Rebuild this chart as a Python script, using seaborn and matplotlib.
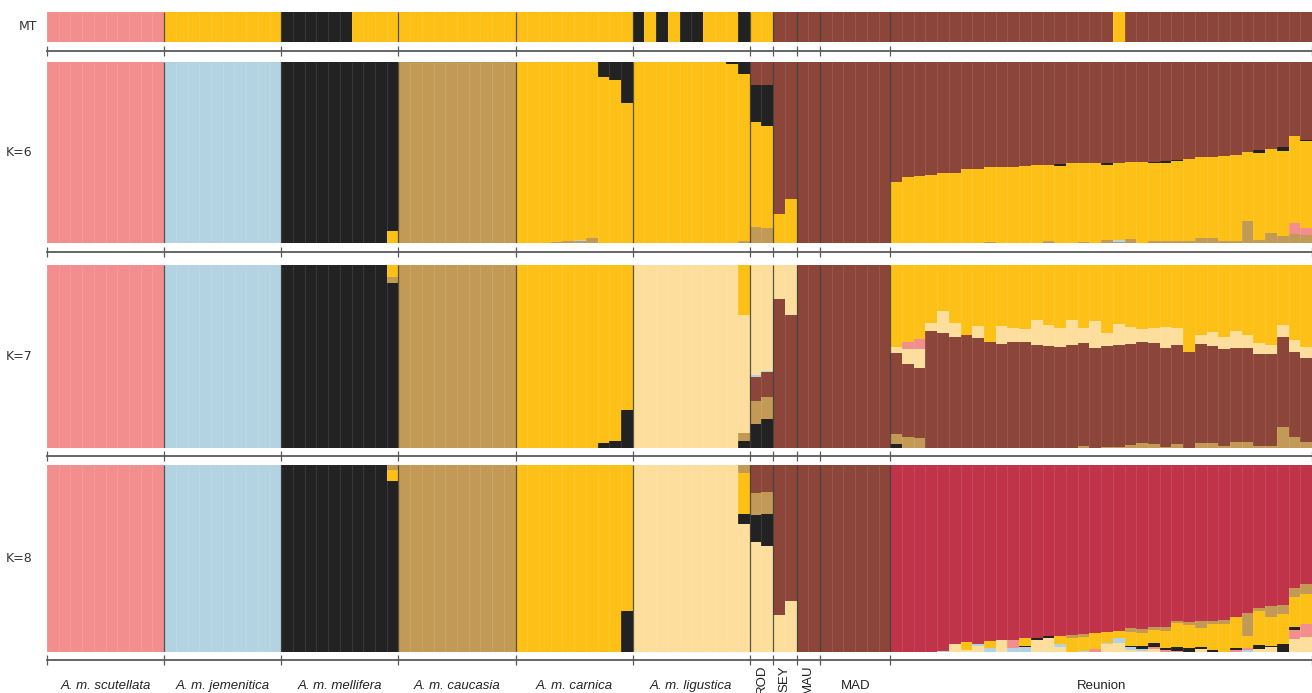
import numpy as np
import pandas as pd
import matplotlib
matplotlib.use("Agg")
import matplotlib.pyplot as plt
import matplotlib.transforms as mtransforms
import seaborn as sns

# ---------------- data ----------------
groups = ["A. m. scutellata", "A. m. jemenitica", "A. m. mellifera", "A. m. caucasia",
          "A. m. carnica", "A. m. ligustica", "ROD", "SEY", "MAU", "MAD", "Reunion"]
group_sizes = [10, 10, 10, 10, 10, 10, 2, 2, 2, 6, 36]
group_italic = [True, True, True, True, True, True, False, False, False, False, False]
group_rotated = [False, False, False, False, False, False, True, True, True, False, False]

cluster_colors = {"pink": "#F28F8E", "blue": "#B3D3E2", "black": "#222222", "tan": "#C29A55",
                  "yellow": "#FCC016", "cream": "#FDDE9D", "brown": "#8B4639", "red": "#C03349"}

# mitochondrial haplotype per individual
mt_hap = (["pink"] * 10 + ["yellow"] * 10
          + ["black"] * 6 + ["yellow"] * 4
          + ["yellow"] * 10 + ["yellow"] * 10
          + ["black", "yellow", "black", "yellow", "black", "black", "yellow", "yellow", "yellow", "black"]
          + ["yellow"] * 2 + ["brown"] * 2 + ["brown"] * 2 + ["brown"] * 6
          + ["brown"] * 19 + ["yellow"] + ["brown"] * 16)

# ---- K=6 ----
k6_main = ["pink", "blue", "black", "tan", "yellow", "yellow", "yellow", "brown", "brown", "brown", "brown"]
k6_admix = [  # (group, individual in group, cluster, proportion)
    (2, 9, "yellow", 0.065),
    (4, 3, "tan", 0.005), (4, 4, "tan", 0.013), (4, 5, "tan", 0.010), (4, 5, "blue", 0.010),
    (4, 6, "tan", 0.027), (4, 7, "black", 0.086), (4, 8, "black", 0.104), (4, 9, "black", 0.229),
    (5, 8, "black", 0.013), (5, 9, "black", 0.071), (5, 9, "tan", 0.015),
    (6, 0, "tan", 0.091), (6, 0, "black", 0.205), (6, 0, "brown", 0.128),
    (6, 1, "tan", 0.086), (6, 1, "black", 0.223), (6, 1, "brown", 0.132),
    (7, 0, "yellow", 0.159), (7, 1, "yellow", 0.243),
]
k6_reu_yellow = [0.335, 0.366, 0.369, 0.375, 0.384, 0.388, 0.406, 0.411, 0.410, 0.419, 0.422, 0.426,
                 0.430, 0.418, 0.424, 0.439, 0.434, 0.442, 0.413, 0.424, 0.424, 0.448, 0.427, 0.429,
                 0.439, 0.453, 0.442, 0.445, 0.466, 0.470, 0.383, 0.479, 0.461, 0.465, 0.480, 0.479]
k6_reu_tan = [0, 0, 0, 0, 0, 0, 0, 0, 0.007, 0, 0, 0, 0, 0.015, 0, 0, 0.007, 0, 0.018, 0.008, 0.022, 0,
              0.015, 0.015, 0.013, 0.010, 0.030, 0.030, 0.013, 0.013, 0.120, 0.020, 0.055, 0.040, 0.050, 0.045]
k6_reu_blue = [0, 0, 0, 0, 0, 0, 0, 0, 0, 0, 0, 0, 0, 0, 0, 0, 0, 0, 0, 0.010, 0, 0,
               0, 0, 0, 0, 0, 0, 0, 0, 0, 0, 0, 0, 0, 0]
k6_reu_pink = [0, 0, 0, 0, 0, 0, 0, 0, 0, 0, 0, 0, 0, 0, 0, 0, 0, 0, 0, 0, 0, 0,
               0, 0, 0, 0, 0, 0, 0, 0, 0, 0, 0, 0, 0.060, 0.037]
k6_reu_black = [0, 0, 0, 0, 0, 0, 0, 0, 0, 0, 0, 0, 0, 0, 0.011, 0, 0, 0, 0.009, 0, 0, 0,
                0.006, 0.007, 0.005, 0, 0, 0, 0, 0, 0, 0.013, 0, 0.022, 0, 0.009]
k6_order = ["brown", "black", "yellow", "pink", "blue", "tan"]  # top -> bottom

# ---- K=7 ----
k7_main = ["pink", "blue", "black", "tan", "yellow", "cream", "cream", "brown", "brown", "brown", "yellow"]
k7_admix = [
    (2, 9, "yellow", 0.066), (2, 9, "tan", 0.033),
    (4, 7, "black", 0.027), (4, 8, "black", 0.036), (4, 9, "black", 0.205),
    (5, 9, "yellow", 0.276), (5, 9, "tan", 0.044), (5, 9, "black", 0.038),
    (6, 0, "black", 0.127), (6, 0, "tan", 0.127), (6, 0, "brown", 0.133), (6, 0, "blue", 0.009),
    (6, 1, "black", 0.155), (6, 1, "tan", 0.124), (6, 1, "brown", 0.133), (6, 1, "blue", 0.009),
    (7, 0, "cream", 0.191), (7, 1, "cream", 0.276),
]
k7_reu_black = [0.018, 0, 0, 0, 0, 0, 0, 0, 0, 0, 0, 0, 0, 0, 0, 0, 0, 0, 0, 0, 0, 0,
                0, 0, 0, 0, 0, 0, 0, 0, 0, 0, 0, 0, 0, 0]
k7_reu_tan = [0.055, 0.060, 0.051, 0, 0, 0, 0, 0, 0, 0, 0, 0, 0, 0, 0, 0, 0.011, 0, 0.005, 0.005, 0.015,
              0.027, 0.018, 0.005, 0.020, 0, 0.027, 0.024, 0.009, 0.029, 0.033, 0.009, 0.009, 0.115, 0.056, 0.029]
k7_reu_brown = [0.442, 0.395, 0.382, 0.636, 0.624, 0.605, 0.615, 0.596, 0.578, 0.564, 0.578, 0.578,
                0.560, 0.556, 0.547, 0.560, 0.558, 0.545, 0.551, 0.555, 0.549, 0.551, 0.551, 0.537,
                0.540, 0.524, 0.537, 0.532, 0.527, 0.516, 0.509, 0.500, 0.500, 0.490, 0.464, 0.462]
k7_reu_cream = [0.035, 0.084, 0.104, 0.042, 0.124, 0.078, 0, 0.069, 0, 0.100, 0.076, 0.069, 0.135,
                0.116, 0.104, 0.136, 0.082, 0.147, 0.071, 0.116, 0.096, 0.069, 0.082, 0.118, 0.091,
                0, 0.051, 0.076, 0.069, 0.091, 0.073, 0.060, 0.051, 0.064, 0.067, 0.056]
k7_reu_pink = [0, 0.036, 0.056, 0, 0, 0, 0, 0, 0, 0, 0, 0, 0, 0, 0, 0, 0, 0, 0, 0, 0, 0,
               0, 0, 0, 0, 0, 0, 0, 0, 0, 0, 0, 0, 0, 0]
k7_order = ["yellow", "pink", "cream", "blue", "brown", "tan", "black"]

# ---- K=8 ----
k8_main = ["pink", "blue", "black", "tan", "yellow", "cream", "cream", "brown", "brown", "brown", "red"]
k8_admix = [
    (2, 9, "yellow", 0.060), (2, 9, "tan", 0.030),
    (4, 9, "black", 0.219),
    (5, 9, "tan", 0.048), (5, 9, "yellow", 0.219), (5, 9, "black", 0.052),
    (6, 0, "black", 0.142), (6, 0, "tan", 0.119), (6, 0, "brown", 0.151),
    (6, 1, "black", 0.173), (6, 1, "tan", 0.116), (6, 1, "brown", 0.146),
    (7, 0, "cream", 0.196), (7, 1, "cream", 0.270),
]
k8_reu_cream = [0, 0, 0, 0, 0, 0.039, 0.009, 0.032, 0, 0.062, 0, 0, 0.062, 0.075, 0.025, 0, 0, 0,
                0.040, 0.044, 0.008, 0.005, 0.014, 0, 0, 0, 0.014, 0, 0, 0, 0, 0.014, 0.023, 0, 0.068, 0.080]
k8_reu_blue = [0, 0, 0, 0, 0.005, 0, 0, 0.010, 0.020, 0, 0.021, 0.023, 0, 0, 0.014, 0, 0.005, 0,
               0.008, 0.027, 0.015, 0.012, 0, 0, 0, 0, 0, 0, 0, 0, 0.009, 0, 0, 0, 0, 0]
k8_reu_pink = [0, 0, 0, 0, 0, 0, 0, 0, 0, 0, 0.041, 0, 0, 0, 0, 0, 0, 0.014, 0, 0, 0, 0,
               0.012, 0.007, 0.005, 0, 0, 0, 0, 0.009, 0.009, 0, 0, 0, 0.048, 0.068]
k8_reu_black = [0, 0, 0, 0, 0, 0, 0, 0, 0, 0, 0, 0.007, 0.009, 0.009, 0, 0, 0, 0, 0, 0, 0.009, 0.011,
                0.018, 0.014, 0.021, 0.021, 0.009, 0.011, 0, 0.011, 0, 0.021, 0.009, 0.039, 0.014, 0]
k8_reu_yellow = [0, 0, 0, 0, 0, 0, 0.045, 0, 0.036, 0, 0, 0.041, 0, 0, 0.046, 0.071, 0.072, 0.084,
                 0.059, 0.039, 0.071, 0.071, 0.071, 0.089, 0.125, 0.120, 0.101, 0.137, 0.148, 0.167,
                 0.066, 0.181, 0.151, 0.165, 0.164, 0.158]
k8_reu_tan = [0, 0, 0, 0, 0, 0, 0, 0, 0, 0, 0, 0, 0, 0, 0, 0.018, 0.018, 0, 0, 0, 0.021, 0.021, 0.018,
              0.021, 0.012, 0.015, 0.041, 0.018, 0.021, 0, 0.125, 0.018, 0.060, 0.044, 0.048, 0.053]
k8_order = ["red", "brown", "tan", "yellow", "black", "pink", "blue", "cream"]

# ---------------- build ----------------
clusters = list(cluster_colors)
n_ind = sum(group_sizes)
starts = np.concatenate([[0], np.cumsum(group_sizes)[:-1]])
bounds = np.concatenate([[0], np.cumsum(group_sizes)]) - 0.5
reu = groups.index("Reunion")


def build_q(main, admix, reunion):
    q = pd.DataFrame(0.0, index=np.arange(n_ind), columns=clusters)
    for g, i, c, v in admix:
        q.loc[starts[g] + i, c] += v
    r0 = starts[reu]
    for c, vals in reunion.items():
        q.loc[r0:r0 + len(vals) - 1, c] += np.asarray(vals, dtype=float)
    for g, c in enumerate(main):
        idx = np.arange(starts[g], starts[g] + group_sizes[g])
        q.loc[idx, c] = 1.0 - q.loc[idx].drop(columns=c).sum(axis=1)
    return q


q_mt = pd.DataFrame(0.0, index=np.arange(n_ind), columns=clusters)
for i, h in enumerate(mt_hap):
    q_mt.loc[i, h] = 1.0
q6 = build_q(k6_main, k6_admix, {"yellow": k6_reu_yellow, "tan": k6_reu_tan, "blue": k6_reu_blue,
                                 "pink": k6_reu_pink, "black": k6_reu_black})
q7 = build_q(k7_main, k7_admix, {"black": k7_reu_black, "tan": k7_reu_tan, "brown": k7_reu_brown,
                                 "cream": k7_reu_cream, "pink": k7_reu_pink})
q8 = build_q(k8_main, k8_admix, {"cream": k8_reu_cream, "blue": k8_reu_blue, "pink": k8_reu_pink,
                                 "black": k8_reu_black, "yellow": k8_reu_yellow, "tan": k8_reu_tan})

# ---------------- plot ----------------
sns.set_theme(style="white")
plt.rcParams["font.family"] = ["DejaVu Sans"]

W, H = 1312, 693
fig = plt.figure(figsize=(W / 100, H / 100), dpi=100)

panels = [("MT", q_mt, ["brown", "black", "yellow", "pink"], 12, 42),
          ("K=6", q6, k6_order, 61.5, 243.3),
          ("K=7", q7, k7_order, 264.5, 447.6),
          ("K=8", q8, k8_order, 464.5, 651.7)]

axes = []
for label, q, order, top, bot in panels:
    ax = fig.add_axes([47 / W, 1 - bot / H, (W - 47) / W, (bot - top) / H])
    long = (q.reset_index().rename(columns={"index": "ind"})
            .melt(id_vars="ind", var_name="cluster", value_name="q"))
    long = long[long["cluster"].isin(order)]
    sns.histplot(data=long, x="ind", weights="q", hue="cluster", hue_order=order,
                 palette=cluster_colors, multiple="stack", discrete=True, shrink=1,
                 linewidth=0, alpha=1, legend=False, ax=ax)
    # faint separators between individuals
    ax.vlines(np.arange(n_ind + 1) - 0.5, 0, 1, color="white", lw=0.6, alpha=0.12)
    # group separators
    ax.vlines(bounds[1:-1], 0, 1, color="#3d3d3d", lw=0.9, alpha=0.85)
    ax.set_xlim(-0.5, n_ind - 0.5)
    ax.set_ylim(0, 1)
    ax.set_xlabel("")
    ax.set_ylabel("")
    ax.set_yticks([])
    for s in ("left", "right", "top"):
        ax.spines[s].set_visible(False)
    ax.spines["bottom"].set_position(("outward", 6.2))
    ax.spines["bottom"].set_color("#5a5a5a")
    ax.spines["bottom"].set_linewidth(1.3)
    ax.set_xticks(bounds)
    ax.tick_params(axis="x", direction="inout", length=7, width=0.9, color="#5a5a5a",
                   labelbottom=False, bottom=True)
    fig.text(28 / W if label == "MT" else 19 / W, 1 - (top + bot) / 2 / H, label,
             ha="center", va="center", fontsize=9, color="#333333")
    axes.append(ax)

ax8 = axes[-1]
trans = mtransforms.blended_transform_factory(ax8.transData, fig.transFigure)
for g, name in enumerate(groups):
    cx = starts[g] + group_sizes[g] / 2 - 0.5
    if group_rotated[g]:
        ax8.text(cx, 1 - 679 / H, name, transform=trans, rotation=90, ha="center", va="center",
                 fontsize=9.5, color="#222222", family=["Liberation Sans", "DejaVu Sans"], clip_on=False)
    else:
        ax8.text(cx, 1 - 686 / H, name, transform=trans, ha="center", va="center", fontsize=9.5,
                 style="italic" if group_italic[g] else "normal", color="#222222",
                 family=["Liberation Sans", "DejaVu Sans"], clip_on=False)

fig.savefig("out.png", dpi=100)
